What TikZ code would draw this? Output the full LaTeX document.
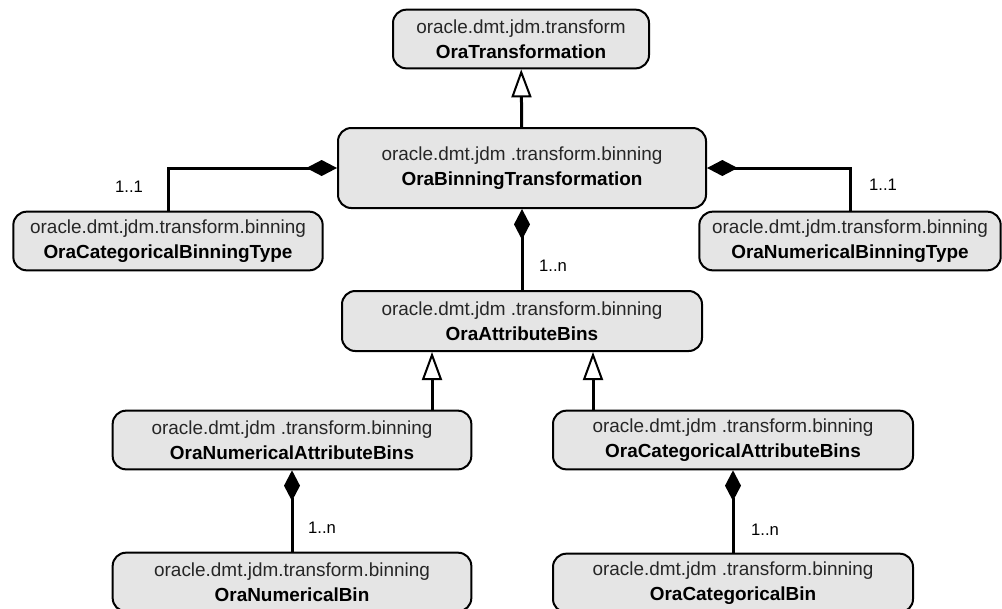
\documentclass[tikz,border=0pt]{standalone}
\usepackage{fontspec}
\setmainfont{Liberation Sans}
\usetikzlibrary{shapes,arrows.meta}

\begin{document}
\begin{tikzpicture} [
    x=0.75pt, y=-0.75pt,
    line width=2.25pt,
  ]

  \tikzstyle{oraclass} = [
    draw=black,
    line width=1.5pt,
    fill=black!10,
    rounded corners=10pt,
    align=center,
    inner sep=0pt,
    minimum height=44pt,
    font=\fontsize{14.2}{18.75}\selectfont,
  ]
  \tikzstyle{mult} = [
    inner sep=0pt,
    font=\fontsize{12.5}{14}\selectfont,
  ]
  \tikzstyle{gen}  = [-{Triangle[open, length=21pt, width=15pt, line width=1.5pt]}]
  \tikzstyle{comp} = [{Diamond[length=23pt, width=12pt]}-]

  \useasboundingbox (0,0) rectangle (1002,608);

  \node[oraclass,minimum width=192pt] (trans)    at (521,39)
    {\color{black!85}oracle.dmt.jdm.transform\\\textbf{OraTransformation}};
  \node[oraclass,minimum width=276pt,minimum height=60pt] (binTrans) at (522,168)
    {\color{black!85}oracle.dmt.jdm .transform.binning\\\textbf{OraBinningTransformation}};
  \node[oraclass,minimum width=232pt] (catType)  at (168,241)
    {\color{black!85}oracle.dmt.jdm.transform.binning\\\textbf{OraCategoricalBinningType}};
  \node[oraclass,minimum width=226pt] (numType)  at (850,241)
    {\color{black!85}oracle.dmt.jdm.transform.binning\\\textbf{OraNumericalBinningType}};
  \node[oraclass,minimum width=270pt,minimum height=45pt] (attrBins) at (522,321)
    {\color{black!85}oracle.dmt.jdm .transform.binning\\\textbf{OraAttributeBins}};

  \node[oraclass,minimum width=269pt] (numAttr)  at (292,440)
    {\color{black!85}oracle.dmt.jdm .transform.binning\\\textbf{OraNumericalAttributeBins}};
  \node[oraclass,minimum width=270pt] (catAttr)  at (733,440)
    {\color{black!85}oracle.dmt.jdm .transform.binning\\\textbf{OraCategoricalAttributeBins}};
  \node[oraclass,minimum width=269pt] (numBin)   at (292,582)
    {\color{black!85}oracle.dmt.jdm.transform.binning\\\textbf{OraNumericalBin}};
  \node[oraclass,minimum width=270pt] (catBin)   at (733,583)
    {\color{black!85}oracle.dmt.jdm .transform.binning\\\textbf{OraCategoricalBin}};

  \coordinate (numUp) at ([xshift=105pt]numAttr.north);
  \coordinate (catUp) at ([xshift=-105pt]catAttr.north);

  \path[gen]  (binTrans) edge (trans);
  \draw[gen]  (numUp) -- (numUp |- attrBins.south);
  \draw[gen]  (catUp) -- (catUp |- attrBins.south);

  \draw[comp] (binTrans.west) -| (catType.north);
  \draw[comp] (binTrans.east) -| (numType.north);
  \path[comp] (binTrans) edge (attrBins);
  \path[comp] (numAttr)  edge (numBin);
  \path[comp] (catAttr)  edge (catBin);

  \node[mult] (catMult)  at (129,187) {1..1};
  \node[mult] (numMult)  at (883,185) {1..1};
  \node[mult] (attrMult) at (553,266) {1..n};
  \node[mult] (nBinMult) at (322,528) {1..n};
  \node[mult] (cBinMult) at (765,530) {1..n};

\end{tikzpicture}
\end{document}
